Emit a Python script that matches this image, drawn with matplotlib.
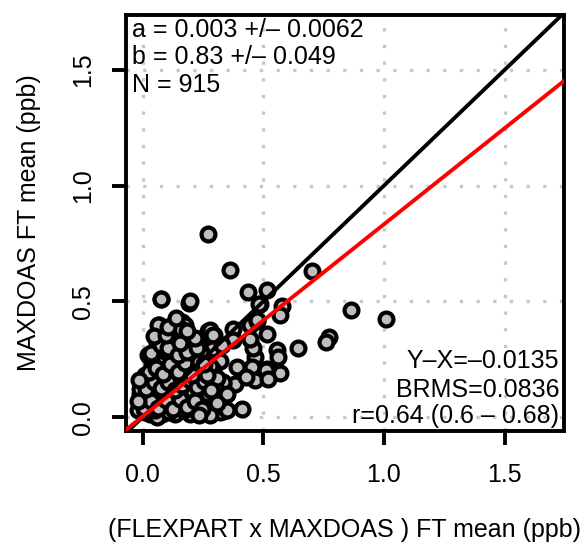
import matplotlib
matplotlib.use('Agg')
import matplotlib.pyplot as plt

# model (FLEXPART x MAXDOAS) vs observed MAXDOAS FT mean, ppb
x_mod = [0.272, 0.362, 0.700, 0.438, 0.514, 0.075, 0.193, 0.486, 0.576, 0.569,
         0.862, 1.007, 0.069, 0.162, 0.127, 0.175, 0.272, 0.295, 0.376, 0.445,
         0.472, 0.514, 0.773, 0.761, 0.645, 0.555, 0.562, 0.569, 0.465, 0.458,
         0.445, 0.514, 0.452, 0.465, 0.390, 0.383, 0.410, 0.334, 0.320, 0.373,
         0.483, 0.475, 0.511, 0.428, 0.520, 0.334, 0.332, 0.320,
         0.076, 0.196, 0.065, 0.134, 0.175, 0.148, 0.279, 0.293, 0.168, 0.058,
         0.120, 0.092, 0.210, 0.023, 0.065, 0.113, 0.162, 0.245, 0.286, 0.327,
         0.037, 0.092, 0.141, 0.196, 0.245, 0.293, 0.010, 0.058, 0.106, 0.175,
         0.224, 0.265, -0.004, 0.044, 0.079, 0.134, 0.189, 0.245, 0.300, 0.010,
         0.065, 0.120, 0.168, 0.210, 0.258, -0.011, 0.037, 0.100, 0.155, 0.203,
         0.258, 0.300, 0.030, 0.079, 0.134, 0.196, 0.251, 0.286, 0.320, 0.058,
         -0.018, -0.011,
         0.02, 0.05, 0.08, 0.11, 0.14, 0.17, 0.20, 0.23, 0.26, 0.28,
         0.03, 0.06, 0.09, 0.12, 0.15, 0.18, 0.21, 0.24, 0.27, 0.31,
         0.02, 0.07, 0.10, 0.14, 0.16, 0.20, 0.23, 0.27,
         0.04, 0.08, 0.11, 0.13, 0.17, 0.21, 0.25, 0.28,
         0.05, 0.09, 0.13, 0.16, 0.19, 0.22, 0.26,
         0.07, 0.10, 0.14, 0.17, 0.20, 0.24,
         0.09, 0.13, 0.19, 0.23, 0.12, 0.16,
         0.00, 0.01, -0.01, 0.04, 0.33, 0.31, 0.35,
         0.005, 0.035, 0.065, 0.095, 0.125, 0.155, 0.185, 0.215, 0.245, 0.300,
         0.015, 0.045, 0.075, 0.105, 0.135, 0.165, 0.195, 0.225, 0.255, 0.285,
         -0.02, 0.025, 0.055, 0.085, 0.115, 0.145, 0.175, 0.205, 0.235, 0.265,
         0.035, 0.075, 0.105, 0.145, 0.185, 0.225, 0.255, 0.045, 0.095, 0.155,
         0.215, 0.105, 0.185, 0.140, -0.015, 0.350, 0.310, 0.235]
y_obs = [0.790, 0.634, 0.631, 0.540, 0.548, 0.510, 0.493, 0.487, 0.479, 0.440,
         0.461, 0.425, 0.396, 0.410, 0.382, 0.367, 0.372, 0.353, 0.382, 0.396,
         0.415, 0.357, 0.346, 0.324, 0.300, 0.288, 0.259, 0.190, 0.259, 0.300,
         0.339, 0.209, 0.216, 0.159, 0.216, 0.144, 0.036, 0.144, 0.029, 0.332,
         0.490, 0.418, 0.202, 0.173, 0.163, 0.151, 0.025, 0.244,
         0.509, 0.500, 0.396, 0.411, 0.396, 0.367, 0.375, 0.353, 0.339, 0.324,
         0.303, 0.317, 0.288, 0.267, 0.267, 0.267, 0.267, 0.267, 0.296, 0.310,
         0.224, 0.231, 0.224, 0.231, 0.216, 0.202, 0.180, 0.180, 0.188, 0.180,
         0.173, 0.166, 0.137, 0.137, 0.130, 0.137, 0.137, 0.137, 0.130, 0.094,
         0.086, 0.094, 0.108, 0.094, 0.094, 0.058, 0.051, 0.043, 0.051, 0.058,
         0.051, 0.043, 0.015, 0.015, 0.015, 0.015, 0.022, 0.029, 0.022, 0.000,
         0.029, 0.101,
         0.05, 0.03, 0.06, 0.02, 0.06, 0.03, 0.08, 0.03, 0.07, 0.01,
         0.11, 0.12, 0.10, 0.13, 0.10, 0.12, 0.11, 0.12, 0.10, 0.08,
         0.16, 0.15, 0.16, 0.17, 0.15, 0.16, 0.14, 0.14,
         0.20, 0.21, 0.22, 0.20, 0.21, 0.20, 0.19, 0.22,
         0.25, 0.26, 0.24, 0.25, 0.26, 0.24, 0.25,
         0.29, 0.28, 0.29, 0.30, 0.31, 0.28,
         0.33, 0.34, 0.33, 0.32, 0.36, 0.38,
         0.08, 0.02, 0.12, 0.08, 0.05, 0.17, 0.10,
         0.040, 0.070, 0.040, 0.075, 0.035, 0.080, 0.045, 0.070, 0.035, 0.065,
         0.120, 0.150, 0.125, 0.150, 0.115, 0.140, 0.160, 0.130, 0.155, 0.115,
         0.070, 0.195, 0.210, 0.185, 0.230, 0.195, 0.235, 0.180, 0.240, 0.180,
         0.275, 0.310, 0.300, 0.270, 0.280, 0.300, 0.230, 0.350, 0.355, 0.320,
         0.340, 0.390, 0.370, 0.430, 0.160, 0.030, 0.060, 0.010]

fit_a = 0.003
fit_b = 0.83
stats_left = ['a = 0.003 +/\u2013 0.0062', 'b = 0.83 +/\u2013 0.049', 'N = 915']
stats_right = ['Y\u2013X=\u20130.0135', 'BRMS=0.0836', 'r=0.64 (0.6 \u2013 0.68)']
ticks = [0.0, 0.5, 1.0, 1.5]

plt.rcParams['font.family'] = ['Liberation Sans', 'DejaVu Sans']
fs = 18

fig = plt.figure(figsize=(5.86, 5.45), dpi=100)
ax = fig.add_axes([126/586, 1 - 431/545, 438/586, 416/545])

lim_x = (-0.069, 1.746)
lim_y = (-0.060, 1.737)

# dotted grid
for t in ticks:
    ax.axvline(t, color='#c8c8c8', lw=2.4, ls=(0, (1, 4)), zorder=1)
    ax.axhline(t, color='#c8c8c8', lw=2.4, ls=(0, (1, 4)), zorder=1)

ax.scatter(x_mod, y_obs, s=100, c='#bebebe', edgecolors='black', linewidths=3.0, zorder=2)

xx = [-0.2, 2.0]
ax.plot(xx, xx, color='black', lw=2.8, zorder=3)
ax.plot(xx, [fit_a + fit_b*v for v in xx], color='red', lw=2.8, zorder=3)

ax.set_xlim(lim_x)
ax.set_ylim(lim_y)
ax.set_xticks(ticks)
ax.set_yticks(ticks)
ax.set_xticklabels(['%.1f' % t for t in ticks])
ax.set_yticklabels(['%.1f' % t for t in ticks])
ax.tick_params(axis='both', direction='out', length=10, width=2.8, labelsize=fs)
ax.tick_params(axis='x', pad=13)
ax.tick_params(axis='y', pad=12, labelrotation=90)
for lab in ax.get_yticklabels():
    lab.set_va('center')
for sp in ax.spines.values():
    sp.set_linewidth(2.8)

ax.set_xlabel('(FLEXPART x MAXDOAS ) FT mean (ppb)', fontsize=fs, labelpad=22)
ax.set_ylabel('MAXDOAS FT mean (ppb)', fontsize=fs, labelpad=22)

for txt, yy in zip(stats_left, [0.965, 0.899, 0.831]):
    ax.text(0.0137, yy, txt, transform=ax.transAxes, fontsize=fs, ha='left', va='center', zorder=4)
for txt, yy in zip(stats_right, [0.168, 0.099, 0.036]):
    ax.text(0.9886, yy, txt, transform=ax.transAxes, fontsize=fs, ha='right', va='center', zorder=4)

fig.savefig('out.png', dpi=100)
